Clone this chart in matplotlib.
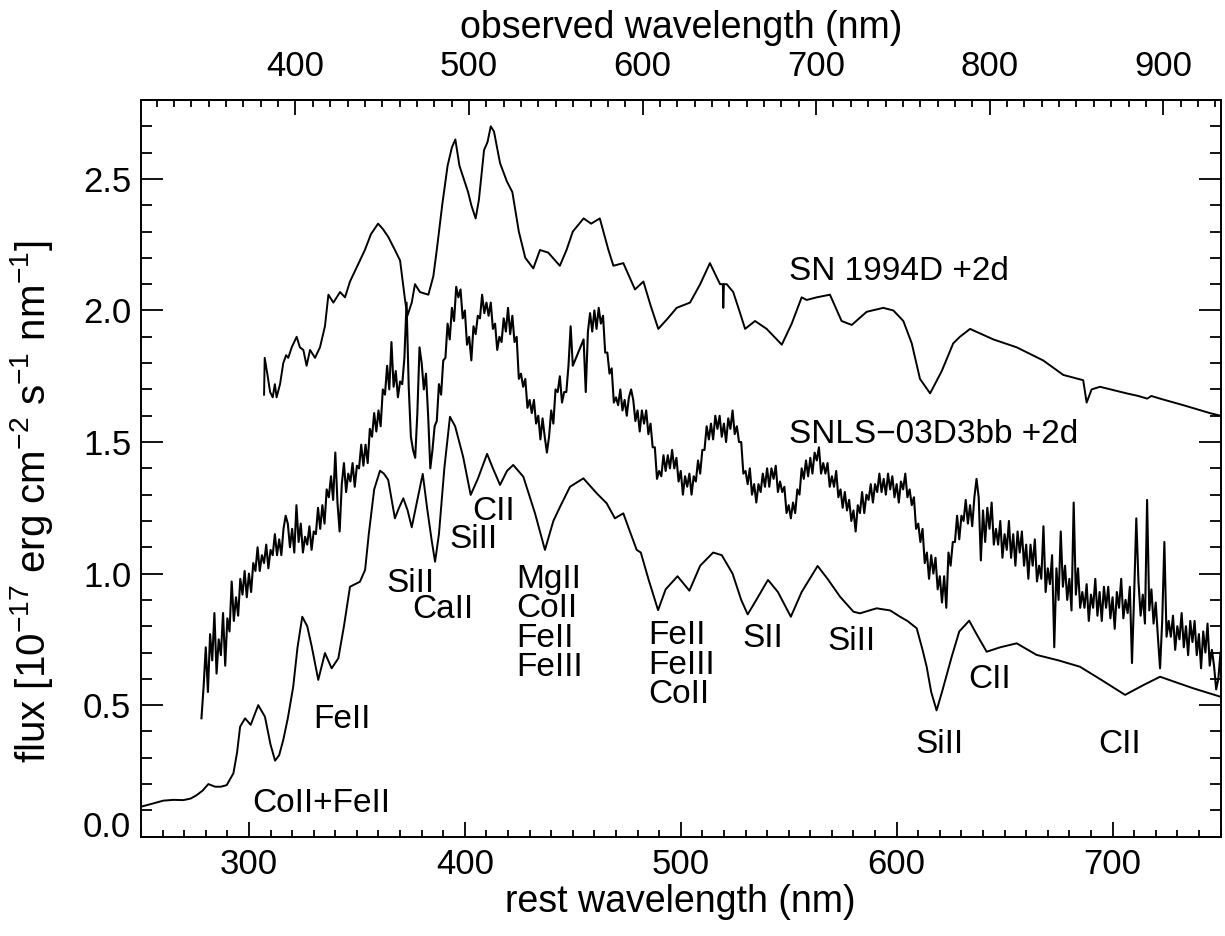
import numpy as np
import matplotlib
matplotlib.use("Agg")
import matplotlib.pyplot as plt
import matplotlib.transforms as mtransforms
from matplotlib.ticker import MultipleLocator, FormatStrFormatter

plt.rcParams['font.family'] = ['Liberation Sans', 'DejaVu Sans']
plt.rcParams['mathtext.fontset'] = 'custom'
plt.rcParams['mathtext.rm'] = 'Liberation Sans'
plt.rcParams['mathtext.it'] = 'Liberation Sans:italic'
plt.rcParams['mathtext.bf'] = 'Liberation Sans:bold'

# ---------------- data ----------------
REDSHIFT = 0.244

# model spectrum (bottom curve)
model_wl = [250.0, 255, 260.3, 265, 269.6, 273, 275.8, 278.5, 281.2, 284.3, 287, 289.7,
            292.8, 294.5, 295.9, 298.2, 300.8, 304.3, 307.4, 310, 312.1, 314, 315.9, 318,
            320.5, 322.5, 324.7, 327, 329.1, 332.1, 335.2, 338.3, 341.4, 344, 346.8, 351.4,
            353.8, 355.5, 358, 360.7, 362.5, 364.5, 367.6, 369.5, 371.5, 373.5, 375.4, 378,
            380.5, 382.5, 384.6, 386.2, 388, 390.5, 393.1, 395.5, 399.2, 402.7, 406, 410.3,
            413, 416.3, 419.5, 422.4, 427.1, 432.5, 437.1, 441, 444.1, 448.7, 454.9, 461.1,
            465.7, 469.5, 473.4, 476, 479.6, 481.5, 485, 489.5, 493, 498.5, 504, 509, 515,
            519, 524, 528, 531, 535, 540.4, 545, 551, 556, 563.4, 568, 573.8, 580, 583,
            590.7, 597, 601.6, 605, 609.3, 612, 613.9, 616, 618.5, 621, 625.5, 629, 633.6,
            637, 641.7, 648, 655.6, 664.8, 675, 684.9, 695, 705.8, 714, 722, 730, 737.4, 750]
model_flux = [0.114, 0.125, 0.137, 0.140, 0.139, 0.145, 0.158, 0.175, 0.200, 0.190, 0.190, 0.196,
              0.241, 0.320, 0.418, 0.450, 0.425, 0.500, 0.456, 0.350, 0.289, 0.310, 0.368, 0.450,
              0.570, 0.720, 0.836, 0.800, 0.722, 0.596, 0.698, 0.640, 0.678, 0.800, 0.950, 0.969,
              1.014, 1.150, 1.320, 1.391, 1.380, 1.356, 1.210, 1.250, 1.286, 1.240, 1.176, 1.280,
              1.379, 1.250, 1.128, 1.045, 1.150, 1.400, 1.596, 1.560, 1.444, 1.299, 1.360, 1.455,
              1.400, 1.337, 1.390, 1.413, 1.368, 1.229, 1.090, 1.200, 1.254, 1.330, 1.362, 1.305,
              1.267, 1.210, 1.229, 1.170, 1.090, 1.080, 0.980, 0.861, 0.940, 0.990, 0.935, 1.030, 1.080,
              1.070, 1.000, 0.900, 0.845, 0.900, 0.976, 0.930, 0.836, 0.930, 1.029, 0.980, 0.912, 0.855, 0.849,
              0.868, 0.860, 0.836, 0.820, 0.792, 0.710, 0.646, 0.550, 0.480, 0.550, 0.684, 0.780, 0.821,
              0.770, 0.703, 0.720, 0.735, 0.691, 0.670, 0.646, 0.595, 0.539, 0.575, 0.608, 0.585, 0.564, 0.532]

# SN 1994D +2d (top curve)
sn94d_wl = [307.0, 307.3, 308.5, 309.8, 311.0, 312.0, 312.8, 314.4, 315.9, 317.2, 318.2, 319.8,
            322.1, 323.6, 325.2, 326.7, 328.3, 330.6, 332.9, 335.2, 336.8, 339.1, 342.2, 344.5,
            346.8, 349.1, 351.4, 353.7, 356.5, 359.8, 362.0, 364.5, 367.6, 370.0, 372.3, 373.4,
            375.4, 376.9, 379.2, 383.1, 385.4, 387.0, 389.5, 392.0, 394.0, 395.6, 397.5, 399.5,
            401.5, 403.0, 405.0, 406.5, 408.9, 410.5, 412.0, 413.5, 416.3, 419.5, 422.0, 425.0,
            428.0, 431.7, 434.8, 438.6, 444.0, 447.1, 450.0, 455.0, 458.5, 462.5, 466.5, 468.8,
            473.4, 478.8, 482.7, 486.0, 489.6, 494.0, 498.1, 504.3, 509.0, 513.5, 518.2, 519.5,
            519.7, 520.0, 521.3, 524.3, 527.5, 529.8, 534.4, 539.8, 546.8, 551.4, 556.0, 558.3,
            563.0, 569.1, 574.5, 579.2, 586.1, 593.8, 598.5, 603.1, 607.0, 610.8, 615.5, 620.9,
            626.2, 629.3, 634.0, 644.8, 655.6, 667.9, 677.2, 686.4, 688.0, 690.3, 694.2, 706.5,
            712.0, 716.0, 718.0, 722.0, 732.8, 745.1, 750.0]
sn94d_flux = [1.68, 1.82, 1.76, 1.69, 1.67, 1.72, 1.67, 1.72, 1.80, 1.83, 1.82, 1.86,
              1.90, 1.86, 1.85, 1.79, 1.85, 1.82, 1.86, 1.94, 2.06, 2.03, 2.07, 2.05,
              2.11, 2.15, 2.19, 2.23, 2.29, 2.33, 2.31, 2.28, 2.23, 2.19, 2.04, 1.98,
              2.03, 2.10, 2.07, 2.06, 2.13, 2.23, 2.40, 2.55, 2.62, 2.65, 2.55, 2.50,
              2.45, 2.40, 2.35, 2.42, 2.61, 2.64, 2.70, 2.68, 2.56, 2.49, 2.45, 2.30,
              2.20, 2.16, 2.23, 2.22, 2.17, 2.23, 2.30, 2.35, 2.33, 2.35, 2.23, 2.17,
              2.18, 2.08, 2.11, 2.02, 1.93, 1.97, 2.01, 2.03, 2.10, 2.18, 2.10, 2.10,
              2.01, 2.10, 2.10, 2.07, 1.99, 1.93, 1.96, 1.93, 1.87, 1.95, 2.05, 2.04,
              2.05, 2.06, 1.96, 1.945, 1.995, 2.01, 2.00, 1.96, 1.875, 1.74, 1.685, 1.77,
              1.875, 1.90, 1.93, 1.89, 1.86, 1.81, 1.755, 1.735, 1.65, 1.70, 1.71, 1.685,
              1.675, 1.665, 1.675, 1.665, 1.64, 1.61, 1.60]

# SNLS-03D3bb +2d (noisy middle curve), 1 nm sampling with a gap 450-455 nm
snls_wl = list(range(278, 451)) + list(range(455, 751))
snls_flux = [
    0.45, 0.57, 0.72, 0.55, 0.77, 0.67, 0.85, 0.62, 0.75, 0.69, 0.85, 0.65, 0.83, 0.78, 0.97, 0.82, 0.91, 0.84, 0.98, 0.92,
    1.01, 0.91, 1.00, 0.93, 1.04, 1.01, 1.10, 1.01, 1.07, 1.04, 1.11, 1.02, 1.09, 1.07, 1.15, 1.07, 1.13, 1.07, 1.17, 1.22,
    1.19, 1.10, 1.17, 1.08, 1.26, 1.12, 1.19, 1.08, 1.14, 1.11, 1.18, 1.09, 1.16, 1.15, 1.25, 1.17, 1.26, 1.19, 1.32, 1.29,
    1.37, 1.28, 1.46, 1.27, 1.16, 1.34, 1.42, 1.31, 1.38, 1.35, 1.42, 1.33, 1.41, 1.40, 1.49, 1.41, 1.49, 1.42, 1.55, 1.52,
    1.61, 1.54, 1.62, 1.56, 1.70, 1.68, 1.79, 1.70, 1.88, 1.71, 1.77, 1.67, 1.73, 1.72, 1.82, 2.03, 1.71, 1.52, 1.47, 1.44,
    1.61, 1.86, 1.80, 1.70, 1.76, 1.60, 1.40, 1.47, 1.56, 1.58, 1.72, 1.68, 1.81, 1.82, 1.95, 1.89, 2.01, 1.96, 2.09, 2.05,
    2.08, 1.97, 2.00, 1.87, 1.90, 1.81, 1.94, 1.91, 1.98, 1.97, 2.06, 1.99, 2.03, 1.98, 2.03, 1.93, 1.95, 1.85, 1.90, 1.88,
    1.97, 1.92, 2.01, 1.91, 1.98, 1.88, 1.90, 1.74, 1.76, 1.71, 1.74, 1.63, 1.66, 1.61, 1.66, 1.57, 1.60, 1.51, 1.59, 1.52,
    1.46, 1.52, 1.62, 1.57, 1.70, 1.69, 1.75, 1.65, 1.69, 1.69, 1.79, 1.94, 1.79,
    1.89, 1.69, 1.92, 1.99, 1.92, 2.00, 1.93, 2.01, 1.95, 1.98, 1.84, 1.84, 1.76, 1.78, 1.65, 1.67, 1.64, 1.70, 1.62, 1.66,
    1.60, 1.67, 1.70,
    1.66, 1.58, 1.62, 1.54, 1.62, 1.57, 1.62, 1.53, 1.57, 1.48, 1.48, 1.36, 1.39, 1.37, 1.45, 1.39, 1.45, 1.40, 1.47, 1.40,
    1.44, 1.35, 1.39, 1.30, 1.37, 1.33, 1.38, 1.30, 1.37, 1.35, 1.43, 1.38, 1.47, 1.47, 1.56, 1.51, 1.57, 1.51, 1.60, 1.55,
    1.60, 1.52, 1.57, 1.50, 1.59, 1.55, 1.62, 1.53, 1.56, 1.50, 1.50, 1.38, 1.39, 1.34, 1.40, 1.30, 1.34, 1.27, 1.34, 1.31,
    1.38, 1.33, 1.40, 1.33, 1.40, 1.36, 1.41, 1.31, 1.35, 1.31, 1.33, 1.23, 1.26, 1.21, 1.27, 1.23, 1.32, 1.30, 1.40, 1.36,
    1.43, 1.37, 1.44, 1.38, 1.46, 1.43, 1.48, 1.38, 1.42, 1.38, 1.42, 1.33, 1.37, 1.33, 1.39, 1.29, 1.32, 1.25, 1.31, 1.24,
    1.28, 1.20, 1.24, 1.16, 1.26, 1.23, 1.31, 1.23, 1.30, 1.28, 1.34, 1.27, 1.34, 1.31, 1.38, 1.31, 1.36, 1.30, 1.38, 1.32,
    1.37, 1.29, 1.34, 1.27, 1.35, 1.32, 1.38, 1.29, 1.32, 1.26, 1.29, 1.17, 1.19, 1.12, 1.17, 1.04, 1.08, 0.98, 1.07, 1.00,
    1.06, 0.94, 0.99, 0.89, 0.99, 0.87, 1.08, 1.03, 1.12, 1.12, 1.22, 1.13, 1.22, 1.20, 1.28, 1.19, 1.26, 1.18, 1.29, 1.36,
    1.29, 1.05, 1.24, 1.12, 1.25, 1.17, 1.27, 1.11, 1.17, 1.11, 1.20, 1.06, 1.15, 1.09, 1.20, 1.06, 1.15, 1.03, 1.16, 1.08,
    1.16, 1.03, 1.11, 0.98, 1.11, 1.03, 1.13, 0.97, 1.03, 0.98, 1.18, 0.93, 1.02, 0.96, 1.07, 0.72, 1.02, 0.90, 1.16, 0.95,
    1.03, 0.90, 0.98, 0.86, 1.27, 0.92, 1.02, 0.87, 0.93, 0.87, 0.96, 0.82, 0.92, 0.87, 0.98, 0.84, 0.93, 0.82, 0.95, 0.87,
    0.95, 0.83, 0.91, 0.79, 0.93, 0.87, 0.98, 0.83, 0.90, 0.85, 0.95, 0.66, 0.92, 1.21, 0.97, 0.84, 0.92, 0.81, 1.28, 0.86,
    0.94, 0.81, 0.89, 0.76, 0.64, 0.82, 1.12, 0.76, 0.82, 0.76, 0.84, 0.71, 0.80, 0.75, 0.85, 0.72, 0.80, 0.69, 0.82, 0.74,
    0.82, 0.69, 0.77, 0.64, 0.78, 0.70, 0.81, 0.65, 0.71, 0.65, 0.56, 0.60, 0.70,
]

# annotations
spec_names = ["SN 1994D +2d", "SNLS\u221203D3bb +2d"]
spec_name_x = [550.0, 550.0]
spec_name_y = [2.150, 1.530]

line_text = ["CoII+FeII", "FeII", "SiII", "CaII", "SiII", "CII",
             "MgII\nCoII\nFeII\nFeIII",
             "FeII\nFeIII\nCoII",
             "SII", "SiII", "SiII", "CII", "CII"]
line_x = [333.7, 343.0, 374.9, 389.9, 404.0, 413.5,
          423.7,
          484.8,
          538.0, 579.2, 620.0, 643.2, 703.4]
line_y = [0.127, 0.444, 0.963, 0.862, 1.130, 1.235,
          0.810,
          0.652,
          0.755, 0.741, 0.349, 0.596, 0.349]
line_ha = ["center", "center", "center", "center", "center", "center",
           "left",
           "left",
           "center", "center", "center", "center", "center"]

# ---------------- figure ----------------
FS_TICK = 25
FS_TEXT = 24
FS_TITLE = 27
fig = plt.figure(figsize=(12.25, 9.36), dpi=100)
ax = fig.add_axes([141 / 1225, 1 - 836.7 / 936, (1220.5 - 141) / 1225, (836.7 - 100) / 936])

ax.plot(model_wl, model_flux, color="black", lw=1.4)
ax.plot(snls_wl, snls_flux, color="black", lw=1.5)
ax.plot(sn94d_wl, sn94d_flux, color="black", lw=1.4)

ax.set_xlim(250, 750)
ax.set_ylim(0, 2.8)

ax.xaxis.set_major_locator(MultipleLocator(100))
ax.xaxis.set_minor_locator(MultipleLocator(10))
ax.yaxis.set_major_locator(MultipleLocator(0.5))
ax.yaxis.set_minor_locator(MultipleLocator(0.1))
ax.yaxis.set_major_formatter(FormatStrFormatter("%.1f"))

ax.tick_params(axis="x", which="major", direction="in", length=10.5, width=1.3,
               top=False, bottom=True, labelsize=FS_TICK, pad=8)
ax.tick_params(axis="x", which="minor", direction="in", length=5.3, width=1.3,
               top=False, bottom=True)
ax.tick_params(axis="y", which="major", direction="in", length=15.6, width=1.3,
               left=True, right=True, labelsize=FS_TICK, pad=7)
ax.tick_params(axis="y", which="minor", direction="in", length=7.8, width=1.3,
               left=True, right=True)
for sp in ax.spines.values():
    sp.set_linewidth(1.4)

ax.set_xlabel("rest wavelength (nm)", fontsize=FS_TITLE, labelpad=2)
ax.set_ylabel(r"flux [10$^{-17}$ erg cm$^{-2}$ s$^{-1}$ nm$^{-1}$]", fontsize=FS_TITLE + 2)
ax.yaxis.set_label_coords(-0.080, 0.455)

z1 = 1 + REDSHIFT
sec = ax.secondary_xaxis("top", functions=(lambda x: x * z1, lambda x: x / z1))
sec.set_xticks([400, 500, 600, 700, 800, 900])
sec.xaxis.set_minor_locator(MultipleLocator(10))
sec.tick_params(axis="x", which="major", direction="in", length=10.5, width=1.3,
                labelsize=FS_TICK, pad=12)
sec.tick_params(axis="x", which="minor", direction="in", length=5.3, width=1.3)
sec.spines["top"].set_linewidth(1.4)
sec.set_xlabel("observed wavelength (nm)", fontsize=FS_TITLE, labelpad=9)

for name, x, y in zip(spec_names, spec_name_x, spec_name_y):
    ax.text(x, y, name, fontsize=FS_TEXT, ha="left", va="center")

for t, x, y, ha in zip(line_text, line_x, line_y, line_ha):
    ax.text(x, y, t, fontsize=FS_TEXT, ha=ha, va="center", ma="left", linespacing=0.93)

# the lowest y label sits a little above its tick, as in the reference
fig.canvas.draw()
for tk in ax.yaxis.get_major_ticks():
    if abs(tk.get_loc()) < 1e-9:
        tk.label1.set_verticalalignment("baseline")

fig.savefig("out.png", dpi=100)
